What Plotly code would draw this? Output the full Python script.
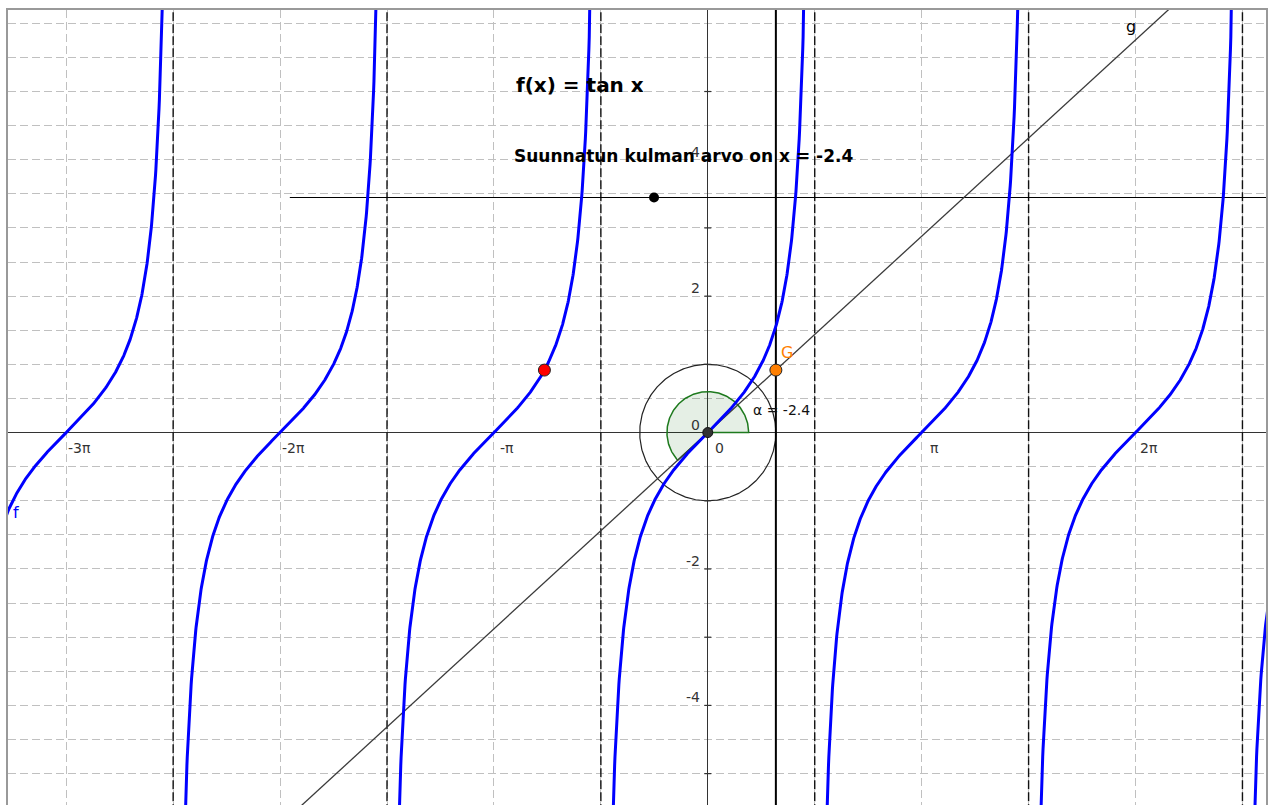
import numpy as np
import plotly.graph_objects as go

# ---- data ----
alpha = -2.4                      # directed angle (rad)
x_min, x_max = -10.28, 8.20
y_min, y_max = -5.46, 6.195
branch_ks = [-3, -2, -1, 0, 1, 2, 3]           # tan branches k*pi
asymptote_ks = [-7, -5, -3, -1, 1, 3, 5, 7]    # x = k*pi/2
x_tick_mult = [-3, -2, -1, 1, 2]
x_tick_text = ["-3π", "-2π", "-π", "π", "2π"]
y_tick_vals = [-4, -2, 2, 4]
y_minor_ticks = [-5, -4, -3, -2, -1, 1, 2, 3, 4, 5]
unit_circle_r = 1.0
sector_r = 0.6
vline_x = 1.0
slider_y = 3.446
slider_start = -6.14
slider_point_x = -0.79

FONT = "DejaVu Sans, Verdana, sans-serif"

fig = go.Figure()

# unit circle
t = np.linspace(0, 2 * np.pi, 361)
fig.add_trace(go.Scatter(x=unit_circle_r * np.cos(t), y=unit_circle_r * np.sin(t),
                         mode="lines", line=dict(color="#222222", width=1.2)))

# angle sector (from 0 counter-clockwise to 2pi+alpha)
ang = np.linspace(0, 2 * np.pi + alpha, 200)
sx = np.concatenate([[0], sector_r * np.cos(ang), [0]])
sy = np.concatenate([[0], sector_r * np.sin(ang), [0]])
fig.add_trace(go.Scatter(x=sx, y=sy, mode="lines", fill="toself",
                         fillcolor="rgba(0,100,0,0.10)",
                         line=dict(color="#1e7a1e", width=1.5)))

# asymptotes
ax_x, ax_y = [], []
for k in asymptote_ks:
    ax_x += [k * np.pi / 2, k * np.pi / 2, None]
    ax_y += [y_min - 1, y_max + 1, None]
fig.add_trace(go.Scatter(x=ax_x, y=ax_y, mode="lines",
                         line=dict(color="#111111", width=1.4, dash="9px,3px")))

# vertical line x = 1
fig.add_trace(go.Scatter(x=[vline_x, vline_x], y=[y_min - 1, y_max + 1], mode="lines",
                         line=dict(color="#000000", width=2)))

# slider line
fig.add_trace(go.Scatter(x=[slider_start, x_max + 1], y=[slider_y, slider_y], mode="lines",
                         line=dict(color="#000000", width=1.2)))

# line g : y = tan(alpha) x
m = np.tan(alpha)
gx = np.array([x_min - 1, x_max + 1])
fig.add_trace(go.Scatter(x=gx, y=m * gx, mode="lines",
                         line=dict(color="#3a3a3a", width=1.3)))

# tan x
fx, fy = [], []
for k in branch_ks:
    xs = np.linspace(k * np.pi - np.pi / 2 + 0.015, k * np.pi + np.pi / 2 - 0.015, 600)
    fx += list(xs) + [None]
    fy += list(np.tan(xs)) + [None]
fig.add_trace(go.Scatter(x=fx, y=fy, mode="lines",
                         line=dict(color="#0000ff", width=3)))

# y-axis small ticks
fig.add_trace(go.Scatter(x=[0] * len(y_minor_ticks), y=y_minor_ticks, mode="markers",
                         marker=dict(symbol="line-ew", size=5,
                                     line=dict(color="#333333", width=1.2))))

# points
fig.add_trace(go.Scatter(x=[0], y=[0], mode="markers",
                         marker=dict(color="#333333", size=10,
                                     line=dict(color="#111111", width=1))))
fig.add_trace(go.Scatter(x=[alpha], y=[np.tan(alpha)], mode="markers",
                         marker=dict(color="#ff0000", size=12,
                                     line=dict(color="#222222", width=1))))
fig.add_trace(go.Scatter(x=[vline_x], y=[np.tan(alpha) * vline_x], mode="markers",
                         marker=dict(color="#ff7f00", size=12,
                                     line=dict(color="#222222", width=1))))
fig.add_trace(go.Scatter(x=[slider_point_x], y=[slider_y], mode="markers",
                         marker=dict(color="#000000", size=10)))

ann = []
lab_font = dict(family=FONT, size=14, color="#333333")
for mult, txt in zip(x_tick_mult, x_tick_text):
    ann.append(dict(x=mult * np.pi, y=0, text=txt, showarrow=False, xanchor="center",
                    yanchor="middle", xshift=13, yshift=-15, font=lab_font))
ann.append(dict(x=0, y=0, text="0", showarrow=False, xanchor="center", yanchor="middle",
                xshift=12, yshift=-15, font=lab_font))
for v in y_tick_vals:
    ann.append(dict(x=0, y=v, text=str(v), showarrow=False, xanchor="right",
                    yanchor="middle", xshift=-6, yshift=8, font=lab_font))
ann.append(dict(x=0, y=0, text="0", showarrow=False, xanchor="right",
                yanchor="middle", xshift=-6, yshift=8, font=lab_font))

ann.append(dict(x=-2.84, y=5.10, text="<b>f(x) = tan x</b>", showarrow=False,
                xanchor="left", yanchor="middle",
                font=dict(family=FONT, size=20, color="#000000")))
ann.append(dict(x=-2.87, y=4.05, text="<b>Suunnatun kulman arvo on x = -2.4</b>", showarrow=False,
                xanchor="left", yanchor="middle",
                font=dict(family=FONT, size=17, color="#000000")))
ann.append(dict(x=6.22, y=5.95, text="g", showarrow=False, xanchor="center", yanchor="middle",
                font=dict(family=FONT, size=16, color="#000000")))
ann.append(dict(x=-10.16, y=-1.17, text="f", showarrow=False, xanchor="center", yanchor="middle",
                font=dict(family=FONT, size=16, color="#0000ff")))
ann.append(dict(x=1.16, y=1.17, text="G", showarrow=False, xanchor="center", yanchor="middle",
                font=dict(family=FONT, size=16, color="#ff7f00")))
ann.append(dict(x=0.63, y=0.33, text="α = -2.4", showarrow=False, xanchor="left", yanchor="middle",
                font=dict(family=FONT, size=14, color="#111111")))

fig.update_layout(
    width=1268, height=805,
    margin=dict(l=8, r=0, t=10, b=0),
    paper_bgcolor="white", plot_bgcolor="white",
    showlegend=False,
    annotations=ann,
    hovermode=False,
)
fig.update_xaxes(range=[x_min, x_max], tickvals=[k * np.pi / 2 for k in range(-7, 6)],
                 showticklabels=False, ticks="", showgrid=True, gridcolor="#c0c0c0",
                 griddash="8px,4px", gridwidth=1, zeroline=True, zerolinecolor="#333333",
                 zerolinewidth=1.2, showline=True, mirror=True, linecolor="#999999", linewidth=1.5)
fig.update_yaxes(range=[y_min, y_max], tickvals=[k * 0.5 for k in range(-12, 14)],
                 showticklabels=False, ticks="", showgrid=True, gridcolor="#c0c0c0",
                 griddash="8px,4px", gridwidth=1, zeroline=True, zerolinecolor="#333333",
                 zerolinewidth=1.2, showline=True, mirror=True, linecolor="#999999", linewidth=1.5)

fig.write_html("out.html", config=dict(displayModeBar=False),
               post_script="document.body.style.margin='0';")
